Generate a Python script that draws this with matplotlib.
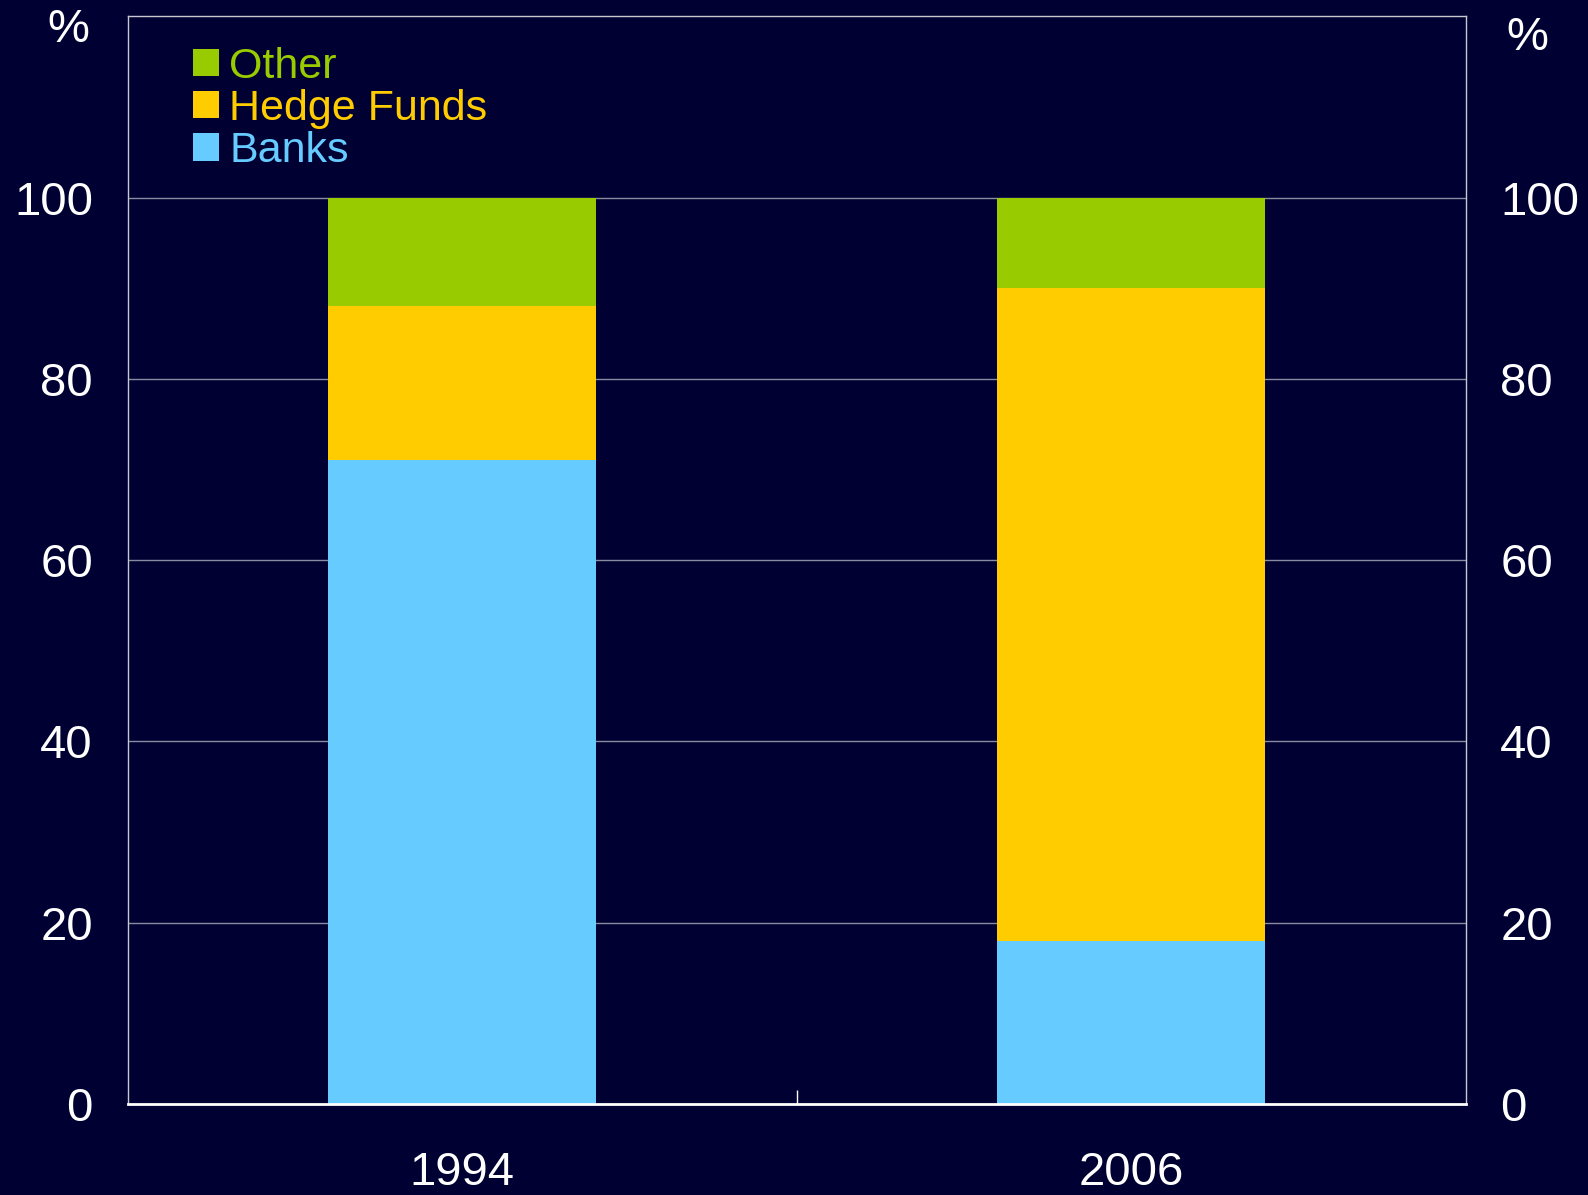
import numpy as np
import matplotlib.pyplot as plt

# data (shares, %)
years = ['1994', '2006']
banks = [71, 18]
hedge_funds = [17, 72]
other = [12, 10]

bg = '#000033'
c_banks = '#66CCFF'
c_hedge = '#FFCC00'
c_other = '#99CC00'

plt.rcParams['font.family'] = ['Liberation Sans', 'DejaVu Sans']

fig = plt.figure(figsize=(15.88, 11.95), dpi=100, facecolor=bg)
ax = fig.add_axes([0.0804, 0.0762, 0.8425, 0.9102], facecolor=bg)

x = np.arange(len(years))
w = 0.4
bottom2 = np.array(banks) + np.array(hedge_funds)
b1 = ax.bar(x, banks, w, color=c_banks, label='Banks', zorder=2)
b2 = ax.bar(x, hedge_funds, w, bottom=banks, color=c_hedge, label='Hedge Funds', zorder=2)
b3 = ax.bar(x, other, w, bottom=bottom2, color=c_other, label='Other', zorder=2)

ax.set_xlim(-0.5, 1.5)
ax.set_ylim(0, 120)
ax.set_yticks([0, 20, 40, 60, 80, 100])
ax.set_xticks(x)
ax.set_xticklabels(years)
ax.set_xticks([0.5], minor=True)

# gridlines (no line at 0)
for yv in [20, 40, 60, 80, 100]:
    ax.axhline(yv, color='#8a8aa0', lw=1, zorder=1)

ax.tick_params(axis='y', length=0, labelsize=34, colors='white', pad=25,
               labelleft=True, labelright=True)
ax.tick_params(axis='x', which='major', length=0, labelsize=34, colors='white', pad=34)
ax.tick_params(axis='x', which='minor', direction='in', length=10, color='white', width=1)

for s in ['left', 'right', 'top']:
    ax.spines[s].set_color('#c8c8d0')
    ax.spines[s].set_linewidth(1)
ax.spines['bottom'].set_color('white')
ax.spines['bottom'].set_linewidth(2)

# unit labels
fig.text(68 / 1588, 1 - 30 / 1195, '%', color='white', fontsize=34, ha='center', va='center')
fig.text(1527 / 1588, 1 - 38 / 1195, '%', color='white', fontsize=34, ha='center', va='center')

leg = ax.legend(handles=[b3, b2, b1], loc='upper left', bbox_to_anchor=(0.0486, 0.972),
                frameon=False, fontsize=31, handlelength=0.6, handleheight=0.6,
                handletextpad=0.25, labelspacing=0.05, borderpad=0, borderaxespad=0)
for t, c in zip(leg.get_texts(), [c_other, c_hedge, c_banks]):
    t.set_color(c)

fig.savefig('out.png', dpi=100, facecolor=bg)
